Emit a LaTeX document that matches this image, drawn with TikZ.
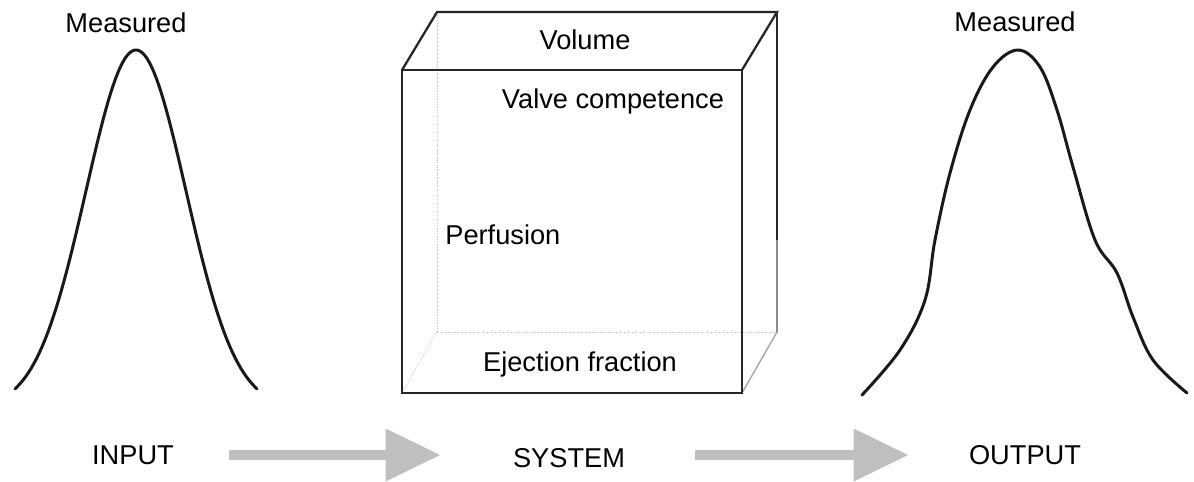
\documentclass[tikz,border=0pt]{standalone}
\usepackage{fontspec}
\setmainfont{Liberation Sans}
\usetikzlibrary{arrows.meta}

\tikzset{
  lbl/.style={inner sep=0pt,font=\fontsize{15.5}{18}\selectfont},
  curve/.style={line width=1.7pt,black!90,line cap=round},
  boxedge/.style={line width=1.3pt,black!85},
  hidden/.style={line width=0.5pt,black!25,densely dotted},
  flow/.style={line width=0.2cm,color=black!25,-{Triangle[length=1.1cm,width=1cm]}}
}

\begin{document}
\begin{tikzpicture}[x=0.02cm,y=-0.02cm]
            \useasboundingbox (0,0) rectangle (1194,481);

            % labels
            \node [lbl] (inlabel) at (126,23) {Measured};
            \node [lbl] (outlabel) at (1015,22) {Measured};
            \node [lbl] (input) at (133,455) {INPUT};
            \node [lbl] (system) at (569,458) {SYSTEM};
            \node [lbl] (output) at (1025,455) {OUTPUT};
            \node [lbl] (volume) at (585,40) {Volume};
            \node [lbl] (valve) at (613,101) {Valve competence};
            \node [lbl,anchor=west] (perf) at (445,235) {Perfusion};
            \node [lbl] (eject) at (580,364) {Ejection fraction};

            % box corners
            \coordinate (fa) at (402,70);
            \coordinate (fb) at (742,70);
            \coordinate (fc) at (742,393);
            \coordinate (fd) at (402,393);
            \coordinate (ba) at (437,12);
            \coordinate (bb) at (777,12);
            \coordinate (bm) at (777,240);
            \coordinate (bc) at (777,332);
            \coordinate (bd) at (437,332);

            \path[hidden]
            (ba) edge (bd)
            (bd) edge (bc)
            (bd) edge (fd)
            ;
            \draw[black!35,line width=0.8pt] (fc) -- (bc);
            \draw[black!45,line width=1.3pt] (bc) -- (bm);
            \draw[boxedge] (fa) -- (fb) -- (fc) -- (fd) -- cycle;
            \draw[boxedge] (fa) -- (ba) -- (bb) -- (fb);
            \draw[boxedge] (bb) -- (bm);

            % input curve
            \draw[curve] plot[domain=15:257,samples=90,smooth]
              (\x,{408-358*exp(-0.5*pow((\x-136)/50,2))});

            % output curve
            \draw[curve] plot[smooth,tension=0.6] coordinates {
              (862,395) (900,350) (925,300) (935,240) (950,173) (970,110)
              (993,67) (1018,50) (1040,67) (1057,110) (1073,167) (1095,240)
              (1117,273) (1133,317) (1153,360) (1187,393)};

            % arrows
            \draw[flow,shorten <=1.1cm,shorten >=1.44cm] (input.east) -- (input.east -| system.west);
            \draw[flow,shorten <=1.4cm,shorten >=1.2cm] (system.east |- output.west) -- (output.west);

        \end{tikzpicture}
\end{document}
